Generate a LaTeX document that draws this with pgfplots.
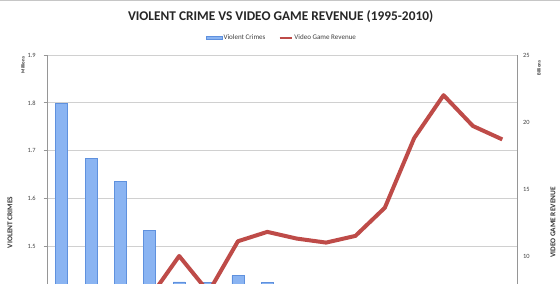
\documentclass[border=0pt]{standalone}
\usepackage{pgfplots}
\pgfplotsset{compat=1.18}
\usepackage{fontspec}
\setmainfont{Carlito}
\definecolor{gridgray}{RGB}{208,208,208}
\definecolor{axisgray}{RGB}{150,150,150}
\definecolor{revred}{RGB}{190,75,72}
\definecolor{barL}{RGB}{95,145,222}
\definecolor{barM}{RGB}{138,180,242}
\begin{document}
\begin{tikzpicture}
\useasboundingbox (-35.25pt,79.5pt) rectangle (384.75pt,292.5pt);
\clip (-35.25pt,79.5pt) rectangle (384.75pt,292.5pt);
\draw[gray!45, line width=0.9pt] (-35.25pt,292.1pt) -- (384.75pt,292.1pt);
\begin{axis}[
  width=352.5pt, height=251.25pt, scale only axis,
  at={(0pt,0pt)}, anchor=south west,
  xmin=-0.5, xmax=15.5,
  ymin=1.2, ymax=1.9,
  ytick={1.5,1.6,1.7,1.8,1.9},
  extra y ticks={1.2,1.3,1.4}, extra y tick labels={},
  xtick=\empty,
  axis lines*=left,
  axis line style={axisgray, line width=0.6pt},
  ymajorgrids, grid style={gridgray, line width=0.75pt},
  extra y tick style={grid=major},
  tick style={axisgray, line width=0.6pt},
  tick align=outside, major tick length=2.5pt,
  /pgf/number format/assume math mode=true,
  yticklabel style={font=\fontsize{4.8}{5.5}\selectfont, text=black!75, /pgf/number format/fixed, /pgf/number format/fixed zerofill, /pgf/number format/precision=1, xshift=-2.5pt},
]
\addplot[ybar, bar width=9pt, draw=barL, line width=0.5pt, fill=barM] coordinates {
(0,1.799) (1,1.684) (2,1.636) (3,1.533) (4,1.426) (5,1.425) (6,1.439) (7,1.424)
(8,1.384) (9,1.360) (10,1.391) (11,1.418) (12,1.408) (13,1.393) (14,1.326) (15,1.246)};
\end{axis}
\begin{axis}[
  width=352.5pt, height=251.25pt, scale only axis,
  at={(0pt,0pt)}, anchor=south west,
  xmin=-0.5, xmax=15.5,
  ymin=0, ymax=25,
  ytick={10,15,20,25},
  axis y line*=right, axis x line=none,
  axis line style={axisgray, line width=0.6pt},
  ytick style={draw=none},
  clip=false,
  /pgf/number format/assume math mode=true,
  yticklabel style={font=\fontsize{4.8}{5.5}\selectfont, text=black!75, xshift=1pt},
  legend columns=2,
  legend style={draw=none, fill=none, at={(rel axis cs:0.499,1)}, anchor=center, yshift=12.75pt,
    font=\fontsize{5.3}{6}\selectfont, text=black!75,
    /tikz/every even column/.append style={column sep=9pt},
    nodes={inner sep=0.6pt}},
]
\addlegendimage{legend image code/.code={\draw[draw=barL, fill=barM, line width=0.4pt] (0pt,-1.1pt) rectangle (12pt,1.1pt);}}
\addlegendentry{Violent Crimes}
\addplot[revred, line width=3pt, line join=round, legend image code/.code={\draw[revred, line width=2pt] (0pt,0pt) -- (9.5pt,0pt);}] coordinates {
(0,5.2) (1,5.4) (2,6.0) (3,6.9) (4,10.0) (5,7.3) (6,11.1) (7,11.8)
(8,11.3) (9,11.0) (10,11.5) (11,13.6) (12,18.8) (13,22.0) (14,19.7) (15,18.7)};
\addlegendentry{Video Game Revenue}
\node[font=\bfseries\fontsize{10}{12}\selectfont, text=black!85] at ([yshift=28.5pt]rel axis cs:0.497,1) {VIOLENT CRIME VS VIDEO GAME REVENUE (1995-2010)};
\node[font=\bfseries\fontsize{5.5}{6}\selectfont, text=black!80, rotate=90] at ([xshift=-27.75pt]rel axis cs:0,0.5) {VIOLENT CRIMES};
\node[font=\bfseries\fontsize{3.6}{4}\selectfont, text=black!80, rotate=90] at ([xshift=-18pt]rel axis cs:0,0.97) {Millions};
\node[font=\bfseries\fontsize{3.6}{4}\selectfont, text=black!80, rotate=90] at ([xshift=16.5pt]rel axis cs:1,0.961) {Billions};
\node[font=\bfseries\fontsize{5.5}{6}\selectfont, text=black!80, rotate=90] at ([xshift=27pt]rel axis cs:1,0.5) {VIDEO GAME REVENUE};
\end{axis}
\end{tikzpicture}
\end{document}
